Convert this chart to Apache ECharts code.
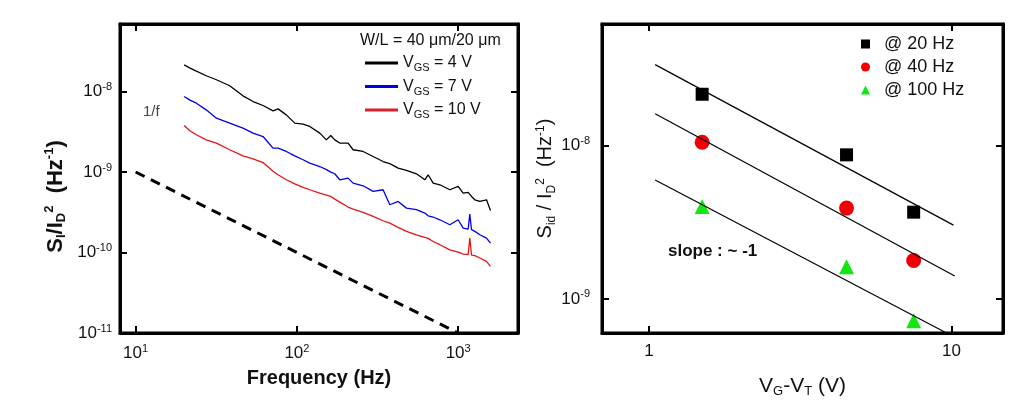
<!DOCTYPE html>
<html><head><meta charset="utf-8">
<script src="https://cdn.jsdelivr.net/npm/echarts@6/dist/echarts.min.js"></script>
<style>html,body{margin:0;padding:0;background:#fff}#c{width:1023px;height:406px}</style>
</head><body><div id="c"></div>
<script>
// ---- Left panel: noise spectra ----
const freqHz = [20, 21.6, 23.8, 27.4, 31.7, 38.3, 46.3, 53.5, 61.7, 71.1, 76.4, 86.0, 97.0, 109.2, 120.2, 138.6, 152.4, 162.2, 171.7, 184.5, 207.7, 223.1, 257.4, 296.9, 342.4, 376.7, 424.4, 478.0, 551.4, 621.2, 651.6, 699.8, 769.7, 888, 1000, 1074, 1153, 1181, 1210, 1269, 1363, 1499, 1587];
const vgs4 = [2.14e-8, 1.97e-8, 1.79e-8, 1.57e-8, 1.40e-8, 1.18e-8, 8.84e-9, 7.51e-9, 6.70e-9, 5.75e-9, 6.09e-9, 5.13e-9, 4.05e-9, 3.93e-9, 3.68e-9, 3.04e-9, 2.51e-9, 2.84e-9, 2.51e-9, 2.29e-9, 2.29e-9, 1.89e-9, 1.80e-9, 1.56e-9, 1.35e-9, 1.27e-9, 1.12e-9, 1.05e-9, 9.51e-10, 8.01e-10, 9.24e-10, 7.28e-10, 6.94e-10, 6.02e-10, 6.62e-10, 5.47e-10, 5.58e-10, 5.37e-10, 4.97e-10, 4.52e-10, 4.31e-10, 4.52e-10, 3.33e-10];
const vgs7 = [8.67e-9, 7.88e-9, 7.16e-9, 5.92e-9, 4.67e-9, 4.05e-9, 3.51e-9, 3.04e-9, 2.76e-9, 1.98e-9, 1.98e-9, 1.80e-9, 1.59e-9, 1.42e-9, 1.29e-9, 1.17e-9, 1.07e-9, 9.97e-10, 9.51e-10, 8.01e-10, 8.40e-10, 7.28e-10, 6.75e-10, 5.74e-10, 6.02e-10, 3.92e-10, 4.31e-10, 3.56e-10, 3.40e-10, 3.09e-10, 2.86e-10, 2.76e-10, 2.55e-10, 2.21e-10, 2.55e-10, 2.01e-10, 1.95e-10, 3.00e-10, 1.92e-10, 1.83e-10, 1.66e-10, 1.51e-10, 1.31e-10];
const vgs10 = [3.78e-9, 3.28e-9, 2.90e-9, 2.51e-9, 2.29e-9, 1.89e-9, 1.59e-9, 1.46e-9, 1.31e-9, 1.02e-9, 9.24e-10, 8.01e-10, 7.14e-10, 6.43e-10, 6.02e-10, 5.47e-10, 5.17e-10, 4.97e-10, 4.61e-10, 4.23e-10, 3.67e-10, 3.46e-10, 3.15e-10, 2.81e-10, 2.48e-10, 2.32e-10, 2.05e-10, 1.83e-10, 1.66e-10, 1.54e-10, 1.50e-10, 1.37e-10, 1.25e-10, 1.08e-10, 1.01e-10, 9.57e-11, 9.39e-11, 1.51e-10, 9.30e-11, 9.13e-11, 8.54e-11, 7.76e-11, 6.73e-11];
const oneOverF = [[10, 1e-9], [1000, 1e-11]];
const leftSeriesNames = ['VGS = 4 V', 'VGS = 7 V', 'VGS = 10 V'];

// ---- Right panel: noise vs overdrive ----
const overdrive = [1.5, 4.5, 7.5];
const at20Hz = [2.16e-8, 8.7e-9, 3.68e-9];
const at40Hz = [1.05e-8, 3.91e-9, 1.78e-9];
const at100Hz = [4.0e-9, 1.62e-9, 7.2e-10];
const fit20 = [[1.049, 3.37e-8], [10.15, 3.03e-9]];
const fit40 = [[1.049, 1.61e-8], [10.25, 1.41e-9]];
const fit100 = [[1.049, 5.97e-9], [9.63, 6.0e-10]];
const rightSeriesNames = ['@ 20 Hz', '@ 40 Hz', '@ 100 Hz'];

const FONT = '"Liberation Sans", Arial, sans-serif';
const pair = (xs, ys) => xs.map((x, i) => [x, ys[i]]);
const isPow = v => { const e = Math.log10(v); return Math.abs(e - Math.round(e)) < 1e-6; };
const powLabel = v => isPow(v) ? '10{sup|' + Math.round(Math.log10(v)) + '}' : '';
const supRich = { sup: { fontSize: 11, padding: [0, 0, 9, 0], color: '#111', fontFamily: FONT } };

function logAxis(o) {
  return Object.assign({
    type: 'log', logBase: 10,
    splitLine: { show: false },
    axisLine: { show: true, onZero: false, lineStyle: { color: '#000', width: 3, opacity: 1 } },
    axisTick: { show: true, inside: true, length: 7, lineStyle: { color: '#000', width: 2 } },
    axisLabel: { show: false },
  }, o);
}
const tickLbl = (extra) => Object.assign({ show: true, formatter: powLabel, fontSize: 17, color: '#111', fontFamily: FONT, rich: supRich }, extra);

const option = {
  animation: false,
  backgroundColor: '#fff',
  grid: [
    { left: 120, right: 505, top: 24, bottom: 73, containLabel: false, show: true, borderColor: '#000', borderWidth: 3, backgroundColor: 'transparent' },
    { left: 602, right: 20, top: 24, bottom: 73, containLabel: false, show: true, borderColor: '#000', borderWidth: 3, backgroundColor: 'transparent' }
  ],
  xAxis: [
    logAxis({ gridIndex: 0, position: 'bottom', min: 8, max: 2350,
      axisLabel: tickLbl({ margin: 10 }),
      name: 'Frequency (Hz)', nameLocation: 'middle', nameGap: 35,
      nameTextStyle: { fontSize: 20, fontWeight: 'bold', color: '#111', fontFamily: FONT } }),
    logAxis({ gridIndex: 0, position: 'top', min: 8, max: 2350 }),
    logAxis({ gridIndex: 1, position: 'bottom', min: 0.7, max: 14.8,
      axisLabel: { show: true, fontSize: 17, color: '#111', fontFamily: FONT, margin: 10,
        formatter: v => isPow(v) ? String(Math.round(v)) : '' },
      name: '{n|V}{s|G}{n|-V}{s|T}{n| (V)}', nameLocation: 'middle', nameGap: 42,
      nameTextStyle: { fontFamily: FONT, color: '#111', rich: {
        n: { fontSize: 21, color: '#111', fontFamily: FONT },
        s: { fontSize: 13, color: '#111', fontFamily: FONT, padding: [10, 0, 0, 0] } } } }),
    logAxis({ gridIndex: 1, position: 'top', min: 0.7, max: 14.8 })
  ],
  yAxis: [
    logAxis({ gridIndex: 0, position: 'left', min: 1e-11, max: 6.9e-8,
      axisLabel: tickLbl({ margin: 8 }),
      name: '{b|S}{bs|I}{b|/I}{bs|D}{bp|2}{b|  (Hz}{bp|-1}{b|)}', nameLocation: 'middle', nameGap: 52,
      nameTextStyle: { fontFamily: FONT, padding: [0, 36, 0, 0], rich: {
        b: { fontSize: 22, fontWeight: 'bold', color: '#111', fontFamily: FONT },
        bs: { fontSize: 13, fontWeight: 'bold', color: '#111', fontFamily: FONT, padding: [12, 0, 0, 0] },
        bp: { fontSize: 13, fontWeight: 'bold', color: '#111', fontFamily: FONT, padding: [0, 0, 12, 0] } } } }),
    logAxis({ gridIndex: 0, position: 'right', min: 1e-11, max: 6.9e-8 }),
    logAxis({ gridIndex: 1, position: 'left', min: 6e-10, max: 6.2e-8,
      axisLabel: tickLbl({ margin: 12 }),
      name: '{n|S}{s|id}{n| / I}{s|D}{p|2}{n|  (Hz}{p|-1}{n|)}', nameLocation: 'middle', nameGap: 38,
      nameTextStyle: { fontFamily: FONT, rich: {
        n: { fontSize: 20, color: '#111', fontFamily: FONT },
        s: { fontSize: 12, color: '#111', fontFamily: FONT, padding: [11, 0, 0, 0] },
        p: { fontSize: 12, color: '#111', fontFamily: FONT, padding: [0, 0, 11, 0] } } } }),
    logAxis({ gridIndex: 1, position: 'right', min: 6e-10, max: 6.2e-8 })
  ],
  legend: [
    { data: leftSeriesNames, orient: 'vertical', left: 360, top: 50, itemGap: 5,
      icon: 'rect', itemWidth: 33, itemHeight: 3,
      formatter: n => n.replace('VGS', 'V{s|GS}'),
      textStyle: { fontSize: 16, color: '#111', fontFamily: FONT,
        rich: { s: { fontSize: 11, color: '#111', fontFamily: FONT, padding: [10, 0, 0, 0] } } } },
    { data: rightSeriesNames, orient: 'vertical', left: 856, top: 30, itemGap: 5,
      itemWidth: 9, itemHeight: 9,
      textStyle: { fontSize: 18, color: '#111', fontFamily: FONT, padding: [0, 0, 0, 9] } }
  ],
  graphic: [
    { type: 'text', left: 360, top: 33, style: { text: 'W/L = 40 μm/20 μm', fontSize: 16, fill: '#111', fontFamily: FONT } },
    { type: 'text', left: 143, top: 104, style: { text: '1/f', fontSize: 15, fill: '#444', fontFamily: FONT } },
    { type: 'text', left: 668, top: 243, style: { text: 'slope : ~ -1', fontSize: 17, fontWeight: 'bold', fill: '#111', fontFamily: FONT } }
  ],
  series: [
    { name: leftSeriesNames[0], type: 'line', xAxisIndex: 0, yAxisIndex: 0, showSymbol: false, data: pair(freqHz, vgs4), lineStyle: { color: '#000', width: 1.3 }, itemStyle: { color: '#000' } },
    { name: leftSeriesNames[1], type: 'line', xAxisIndex: 0, yAxisIndex: 0, showSymbol: false, data: pair(freqHz, vgs7), lineStyle: { color: '#0000e6', width: 1.3 }, itemStyle: { color: '#0000e6' } },
    { name: leftSeriesNames[2], type: 'line', xAxisIndex: 0, yAxisIndex: 0, showSymbol: false, data: pair(freqHz, vgs10), lineStyle: { color: '#e41414', width: 1.3 }, itemStyle: { color: '#d4202a' } },
    { name: '1/f', type: 'line', xAxisIndex: 0, yAxisIndex: 0, showSymbol: false, data: oneOverF, lineStyle: { color: '#000', width: 3, type: [10, 7] } },
    { name: rightSeriesNames[0], type: 'scatter', xAxisIndex: 2, yAxisIndex: 2, symbol: 'rect', symbolSize: 13, data: pair(overdrive, at20Hz), itemStyle: { color: '#000', opacity: 1 } },
    { name: rightSeriesNames[1], type: 'scatter', xAxisIndex: 2, yAxisIndex: 2, symbol: 'circle', symbolSize: 15, data: pair(overdrive, at40Hz), itemStyle: { color: '#f00000', opacity: 1 } },
    { name: rightSeriesNames[2], type: 'scatter', xAxisIndex: 2, yAxisIndex: 2, symbol: 'triangle', symbolSize: 15, data: pair(overdrive, at100Hz), itemStyle: { color: '#14e614', opacity: 1 } },
    { name: 'fit20', type: 'line', xAxisIndex: 2, yAxisIndex: 2, showSymbol: false, data: fit20, lineStyle: { color: '#000', width: 1.2 } },
    { name: 'fit40', type: 'line', xAxisIndex: 2, yAxisIndex: 2, showSymbol: false, data: fit40, lineStyle: { color: '#000', width: 1.2 } },
    { name: 'fit100', type: 'line', xAxisIndex: 2, yAxisIndex: 2, showSymbol: false, data: fit100, lineStyle: { color: '#000', width: 1.2 } }
  ]
};
const chart = echarts.init(document.getElementById('c'), null, { renderer: 'canvas' });
chart.setOption(option);
</script></body></html>
